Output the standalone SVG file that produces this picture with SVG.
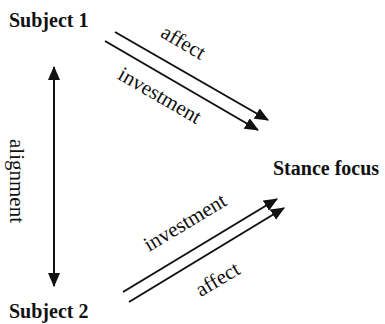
<svg xmlns="http://www.w3.org/2000/svg" width="385" height="324" viewBox="0 0 385 324">
<style>
.node{font-family:"Liberation Serif","Times New Roman",serif;font-weight:bold;font-size:20px;fill:#111}
.lab{font-family:"Liberation Serif","Times New Roman",serif;font-size:21px;fill:#111}
.edge{stroke:#111;stroke-width:2;fill:none}
</style>
<defs>
<marker id="ah" viewBox="0 0 14 12" refX="13" refY="6" markerWidth="14" markerHeight="12" markerUnits="userSpaceOnUse" orient="auto-start-reverse">
<path d="M0,0 L14,6 L0,12 Z" fill="#111"/>
</marker>
</defs>
<g id="subject1"><text class="node" x="9" y="27">Subject 1</text></g>
<g id="subject2"><text class="node" x="9" y="318">Subject 2</text></g>
<g id="stance"><text class="node" x="273" y="175">Stance focus</text></g>
<g id="connectors">
<line class="edge" x1="54" y1="67" x2="54" y2="286" marker-start="url(#ah)" marker-end="url(#ah)"/>
<line class="edge" x1="115" y1="32" x2="268" y2="120" marker-end="url(#ah)"/>
<line class="edge" x1="105" y1="41" x2="258" y2="130" marker-end="url(#ah)"/>
<line class="edge" x1="123" y1="292" x2="277" y2="199" marker-end="url(#ah)"/>
<line class="edge" x1="129" y1="302" x2="284" y2="208" marker-end="url(#ah)"/>
</g>
<g id="labels">
<text class="lab" text-anchor="middle" transform="translate(16,181) rotate(90)" y="6">alignment</text>
<text class="lab" text-anchor="middle" transform="translate(183,43) rotate(30)" y="6">affect</text>
<text class="lab" text-anchor="middle" transform="translate(159,97) rotate(30)" y="5">investment</text>
<text class="lab" text-anchor="middle" transform="translate(186,224) rotate(-31)" y="5">investment</text>
<text class="lab" text-anchor="middle" transform="translate(218,280) rotate(-31)" y="6">affect</text>
</g>
</svg>
